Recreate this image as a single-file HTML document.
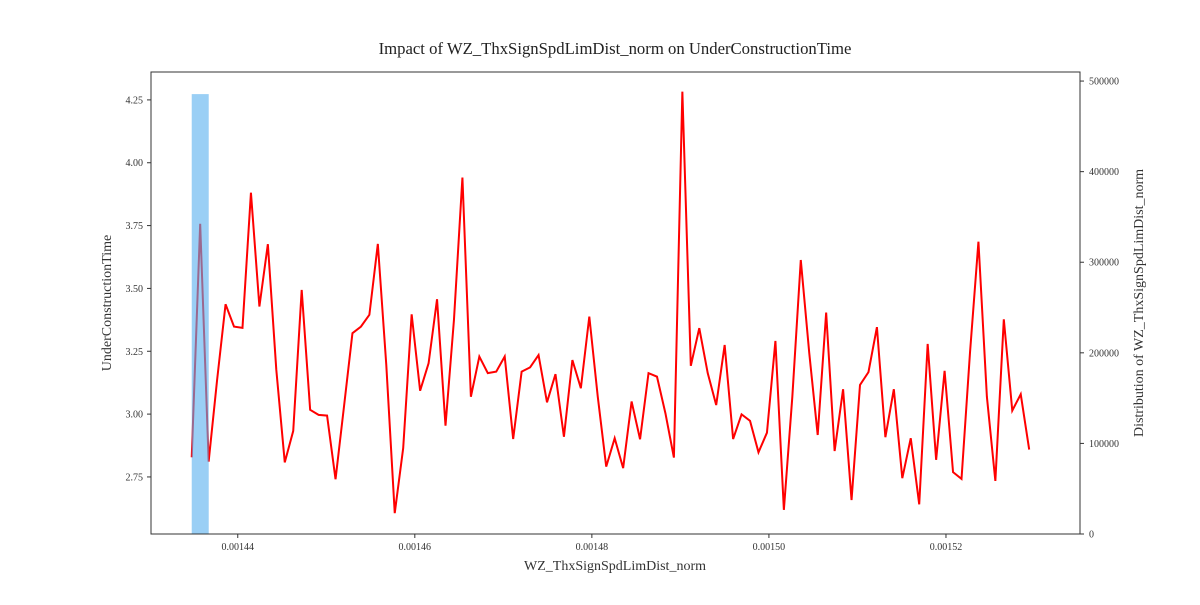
<!DOCTYPE html>
<html><head><meta charset="utf-8"><style>
body{margin:0;background:#fff}
svg text{font-family:"Liberation Serif",serif;fill:#333}
</style></head><body>
<svg id="chart" width="1200" height="600"></svg>
<script>
const lineValues=[2.828,3.757,2.811,3.136,3.437,3.348,3.343,3.881,3.428,3.676,3.176,2.808,2.933,3.494,3.017,2.997,2.994,2.741,3.030,3.322,3.348,3.395,3.677,3.196,2.606,2.865,3.397,3.093,3.202,3.457,2.954,3.375,3.941,3.069,3.229,3.163,3.169,3.229,2.901,3.169,3.186,3.235,3.047,3.159,2.910,3.215,3.103,3.388,3.069,2.791,2.904,2.785,3.050,2.900,3.163,3.149,3.003,2.827,4.283,3.192,3.342,3.163,3.036,3.275,2.901,2.999,2.973,2.848,2.926,3.291,2.619,3.069,3.613,3.243,2.917,3.404,2.853,3.099,2.658,3.116,3.167,3.346,2.908,3.099,2.745,2.904,2.641,3.279,2.818,3.172,2.769,2.742,3.243,3.686,3.069,2.734,3.377,3.014,3.079,2.859];
const xFirst=0.0014348, xLast=0.0015294;
const barStarts=[0.0014348];
const barWidths=[0.00000192];
const barCounts=[485600];
const xTicks=[0.00144,0.00146,0.00148,0.00150,0.00152];
const xTickLabels=["0.00144","0.00146","0.00148","0.00150","0.00152"];
const yTicks=[2.75,3.00,3.25,3.50,3.75,4.00,4.25];
const y2Ticks=[0,100000,200000,300000,400000,500000];

const L=151,R=1080,T=72,B=534;
const xMin=0.0014302,xMax=0.00153514,yMin=2.523,yMax=4.361,y2Max=510000;
const X=v=>L+(v-xMin)/(xMax-xMin)*(R-L);
const Y=v=>B-(v-yMin)/(yMax-yMin)*(B-T);
const Y2=v=>B-v/y2Max*(B-T);
const NS="http://www.w3.org/2000/svg";
const svg=document.getElementById('chart');
function mk(t,a,txt){const e=document.createElementNS(NS,t);for(const k in a)e.setAttribute(k,a[k]);if(txt!==undefined)e.textContent=txt;svg.appendChild(e);return e;}

const n=lineValues.length;
const pts=lineValues.map((v,i)=>X(xFirst+(xLast-xFirst)*i/(n-1)).toFixed(2)+','+Y(v).toFixed(2)).join(' ');
const pl=mk('polyline',{points:pts,fill:'none',stroke:'#ff0000','stroke-width':2,'stroke-linejoin':'miter'});



barStarts.forEach((s,i)=>{
  const r=mk('rect',{x:X(s),y:Y2(barCounts[i]),width:X(s+barWidths[i])-X(s),height:B-Y2(barCounts[i]),fill:'rgb(87,175,238)','fill-opacity':0.6});
  
  
});

const fr=mk('rect',{x:L,y:T,width:R-L,height:B-T,fill:'none',stroke:'#333','stroke-width':1});



xTicks.forEach((v,i)=>{
  const x=X(v);
  mk('line',{x1:x,x2:x,y1:B,y2:B+4,stroke:'#333'});
  const t=mk('text',{x:x,y:B+16,'text-anchor':'middle','font-size':10},xTickLabels[i]);
  
  
});
yTicks.forEach(v=>{
  const y=Y(v);
  mk('line',{x1:L-4,x2:L,y1:y,y2:y,stroke:'#333'});
  const t=mk('text',{x:L-8,y:y+3.5,'text-anchor':'end','font-size':10},v.toFixed(2));
  
  
});
y2Ticks.forEach(v=>{
  const y=Y2(v);
  mk('line',{x1:R,x2:R+4,y1:y,y2:y,stroke:'#333'});
  const t=mk('text',{x:R+9,y:y+3.5,'text-anchor':'start','font-size':10},String(v));
  
  
});
</script>
<svg width="1200" height="600" style="position:absolute;left:0;top:0;pointer-events:none">
<text x="615" y="54" text-anchor="middle" font-size="16.7" style="font-family:'Liberation Serif',serif;fill:#222">Impact of WZ_ThxSignSpdLimDist_norm on UnderConstructionTime</text>
<text x="615" y="570" text-anchor="middle" font-size="14" style="font-family:'Liberation Serif',serif;fill:#333">WZ_ThxSignSpdLimDist_norm</text>
<text transform="translate(111,303) rotate(-90)" text-anchor="middle" font-size="14" style="font-family:'Liberation Serif',serif;fill:#333">UnderConstructionTime</text>
<text transform="translate(1143,303) rotate(-90)" text-anchor="middle" font-size="14" style="font-family:'Liberation Serif',serif;fill:#333">Distribution of WZ_ThxSignSpdLimDist_norm</text>
</svg>
</body></html>
